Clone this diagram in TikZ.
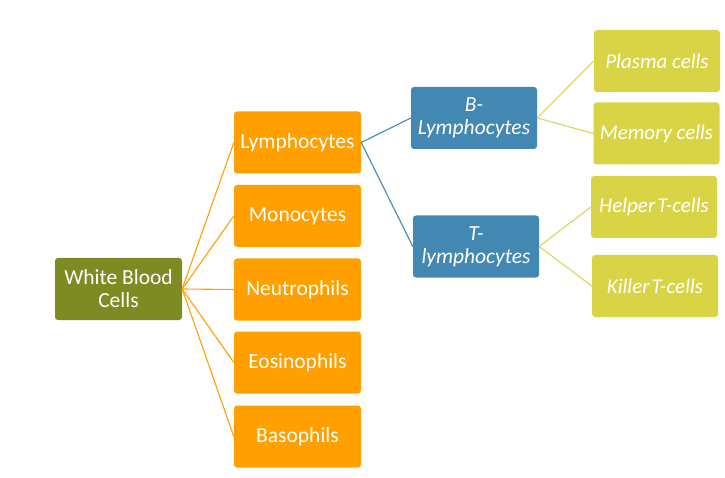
\documentclass[tikz,border=0pt]{standalone}
\usepackage{fontspec}
\setmainfont{Carlito}
\definecolor{olivebox}{HTML}{7E8A22}
\definecolor{orangebox}{HTML}{FFA000}
\definecolor{bluebox}{HTML}{4388B3}
\definecolor{yellowbox}{HTML}{D9D446}
\definecolor{yellowline}{HTML}{DAD55A}
\begin{document}
\begin{tikzpicture}[x=1pt,y=-1pt,
  box/.style={rounded corners=3pt, minimum width=127pt, minimum height=62pt,
    inner sep=1pt, text=white, align=center, font=\fontsize{21.5}{23}\selectfont},
  wbcbox/.style={box, fill=olivebox},
  orbox/.style={box, fill=orangebox},
  blbox/.style={box, fill=bluebox, minimum width=126pt, font=\fontsize{21.5}{23}\selectfont\itshape},
  yebox/.style={box, fill=yellowbox, minimum width=126pt, font=\fontsize{21}{23}\selectfont\itshape},
  orline/.style={draw=orangebox, line width=1.1pt},
  blline/.style={draw=bluebox, line width=1.1pt},
  yeline/.style={draw=yellowline, line width=1.1pt}]
\useasboundingbox (0,0) rectangle (725,478);
\node[wbcbox] (wbc) at (118.5,289) {White Blood\\Cells};
\node[orbox] (lym) at (297.5,142.5) {Lymphocytes};
\node[orbox] (mono) at (297.5,216) {Monocytes};
\node[orbox] (neu) at (297.5,289.5) {Neutrophils};
\node[orbox] (eos) at (297.5,362.5) {Eosinophils};
\node[orbox] (baso) at (297.5,436.5) {Basophils};
\node[blbox] (bly) at (474,118) {B-\\Lymphocytes};
\node[blbox] (tly) at (476,246.5) {T-\\lymphocytes};
\node[yebox] (plasma) at (657,61) {Plasma cells};
\node[yebox] (memory) at (656.5,133.5) {Memory cells};
\node[yebox] (helper) at (654,207) {Helper\hspace{0.1em}T-cells};
\node[yebox] (killer) at (655,286) {Killer\hspace{0.1em}T-cells};
\foreach \t in {lym,mono,neu,eos,baso}
  \draw[orline] (wbc.east) -- (\t.west);
\draw[blline] (lym.east) -- (bly.west);
\draw[blline] (lym.east) -- (tly.west);
\draw[yeline] (bly.east) -- (plasma.west);
\draw[yeline] (bly.east) -- (memory.west);
\draw[yeline] (tly.east) -- (helper.west);
\draw[yeline] (tly.east) -- (killer.west);
\end{tikzpicture}
\end{document}
